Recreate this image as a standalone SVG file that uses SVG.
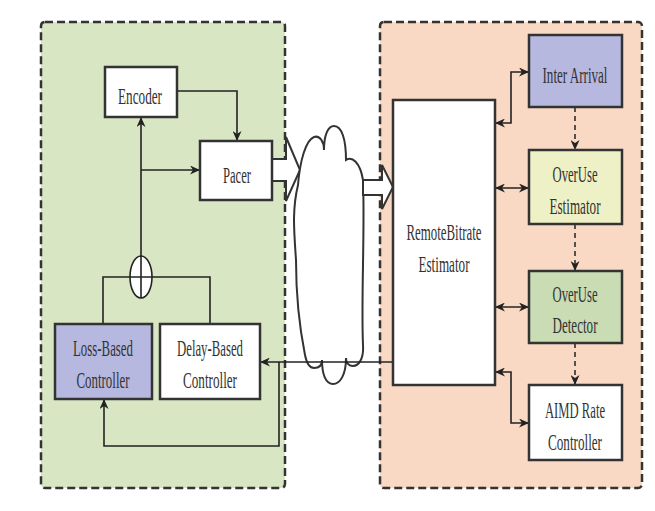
<svg xmlns="http://www.w3.org/2000/svg" width="655" height="511" viewBox="0 0 655 511">
<defs>
<style>
.panel{stroke:#333;stroke-width:2.5;stroke-dasharray:8 4}
.box{stroke:#333;stroke-width:2.5}
.t{font-family:"Liberation Serif","Times New Roman",serif;font-size:23px;fill:#333;text-anchor:middle}
.ln{fill:none;stroke:#222;stroke-width:1.6}
.dash{fill:none;stroke:#222;stroke-width:1.5;stroke-dasharray:5 4}
.fat{fill:#fff;stroke:#333;stroke-width:2}
</style>
<marker id="ah" markerUnits="userSpaceOnUse" markerWidth="11" markerHeight="9" refX="10" refY="4.5" orient="auto-start-reverse">
<path d="M0,0 L10,4.5 L0,9 L3,4.5 z" fill="#222"/>
</marker>
</defs>
<rect width="655" height="511" fill="#fff"/>
<g id="panel-sender"><rect class="panel" x="41" y="22" width="244" height="466" rx="4" fill="#d9e6c3"/></g>
<g id="panel-receiver"><rect class="panel" x="380" y="22" width="262" height="466" rx="4" fill="#f9d9c4"/></g>

<g id="fat-arrow-out"><polygon class="fat" points="272,159 286,159 286,137 300,170 286,201 286,181 272,181"/></g>
<g id="cloud"><path d="M298 185 C300 160 306 140 314 137 C320 135 324 142 324 150 C324 135 328 126 334 126 C342 126 346 140 346 160 C352 156 360 162 363 180 C365 230 361 300 363 345 C364 360 358 366 353 366 C348 366 346 362 346 358 C346 375 340 384 333 384 C326 384 322 375 322 360 C322 366 318 368 314 368 C308 368 306 360 305 355 C300 330 296 300 296 260 C294 230 292 210 298 185 Z" fill="#fff" stroke="#333" stroke-width="2"/></g>
<g id="fat-arrow-in"><polygon class="fat" points="363,180 382,180 382,165 393,187 382,209 382,195 363,195"/></g>

<g id="connectors">
<path class="ln" d="M177 91 H237 V141" marker-end="url(#ah)"/>
<path class="ln" d="M141 256 V117" marker-end="url(#ah)"/>
<path class="ln" d="M141 170 H200" marker-end="url(#ah)"/>
<path class="ln" d="M103 324 V277 H210 V324"/>
<path class="ln" d="M393 362 H260" marker-end="url(#ah)"/>
<path class="ln" d="M279 362 V446 H104 V399" marker-end="url(#ah)"/>
<path class="ln" d="M495 123 H511 V72 H529" marker-start="url(#ah)" marker-end="url(#ah)"/>
<path class="ln" d="M495 188 H529" marker-start="url(#ah)" marker-end="url(#ah)"/>
<path class="ln" d="M495 307 H529" marker-start="url(#ah)" marker-end="url(#ah)"/>
<path class="ln" d="M495 372 H511 V423 H529" marker-start="url(#ah)" marker-end="url(#ah)"/>
<path class="dash" d="M575 107 V150" marker-end="url(#ah)"/>
<path class="dash" d="M575 224 V271" marker-end="url(#ah)"/>
<path class="dash" d="M575 343 V385" marker-end="url(#ah)"/>
</g>

<g id="sum"><ellipse cx="141" cy="277" rx="11" ry="21" fill="#fff" stroke="#222" stroke-width="1.6"/><path class="ln" d="M141 256 V298 M130 277 H152"/></g>

<g id="encoder"><rect class="box" x="105" y="67" width="72" height="50" fill="#fff"/><text class="t" x="140" y="104" textLength="44" lengthAdjust="spacingAndGlyphs">Encoder</text></g>
<g id="pacer"><rect class="box" x="200" y="141" width="72" height="59" fill="#fff"/><text class="t" x="237" y="183" textLength="28" lengthAdjust="spacingAndGlyphs">Pacer</text></g>
<g id="loss-based"><rect class="box" x="55" y="324" width="97" height="75" fill="#b7b8df"/><text class="t" x="103" y="356" textLength="60" lengthAdjust="spacingAndGlyphs">Loss-Based</text><text class="t" x="103" y="388" textLength="53" lengthAdjust="spacingAndGlyphs">Controller</text></g>
<g id="delay-based"><rect class="box" x="160" y="324" width="100" height="75" fill="#fff"/><text class="t" x="210" y="356" textLength="66" lengthAdjust="spacingAndGlyphs">Delay-Based</text><text class="t" x="210" y="388" textLength="54" lengthAdjust="spacingAndGlyphs">Controller</text></g>

<g id="remote-bitrate"><rect class="box" x="393" y="100" width="102" height="285" fill="#fff"/><text class="t" x="444" y="240" textLength="75" lengthAdjust="spacingAndGlyphs">RemoteBitrate</text><text class="t" x="444" y="272" textLength="51" lengthAdjust="spacingAndGlyphs">Estimator</text></g>
<g id="inter-arrival"><rect class="box" x="529" y="35" width="93" height="72" fill="#b7b8df"/><text class="t" x="575" y="83" textLength="65" lengthAdjust="spacingAndGlyphs">Inter Arrival</text></g>
<g id="overuse-estimator"><rect class="box" x="529" y="150" width="93" height="74" fill="#eef1c5"/><text class="t" x="575" y="182" textLength="45" lengthAdjust="spacingAndGlyphs">OverUse</text><text class="t" x="575" y="214" textLength="51" lengthAdjust="spacingAndGlyphs">Estimator</text></g>
<g id="overuse-detector"><rect class="box" x="529" y="271" width="93" height="72" fill="#c9dcb3"/><text class="t" x="575" y="302" textLength="45" lengthAdjust="spacingAndGlyphs">OverUse</text><text class="t" x="575" y="333" textLength="45" lengthAdjust="spacingAndGlyphs">Detector</text></g>
<g id="aimd"><rect class="box" x="529" y="385" width="93" height="75" fill="#fff"/><text class="t" x="575" y="418" textLength="60" lengthAdjust="spacingAndGlyphs">AIMD Rate</text><text class="t" x="575" y="450" textLength="54" lengthAdjust="spacingAndGlyphs">Controller</text></g>
</svg>
